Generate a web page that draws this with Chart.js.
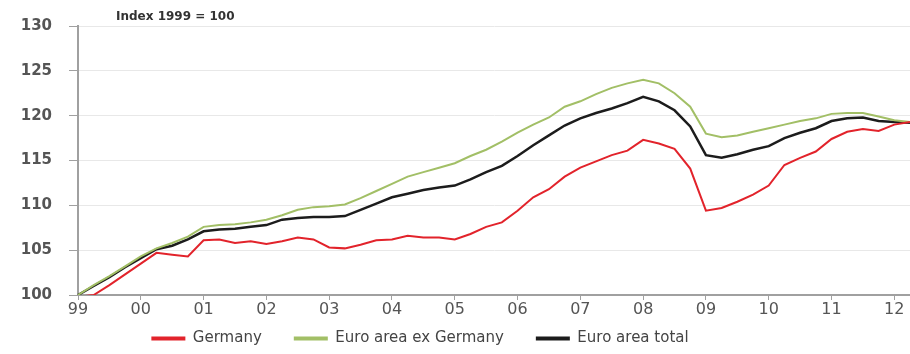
<!DOCTYPE html>
<html lang="en">
<head>
    <meta charset="UTF-8">
    <title>Index 1999 = 100</title>
    <script src="https://cdn.jsdelivr.net/npm/chart.js"></script>
    <style>
        html, body { margin: 0; padding: 0; background: #fff; }
        .chart-container { width: 910px; height: 354px; }
    </style>
</head>
<body>
    <div class="chart-container">
        <canvas id="ulcChart"></canvas>
    </div>

    <script>
        // quarters 1999Q1 .. 2012Q2
        const quarters = [
            '1999Q1','1999Q2','1999Q3','1999Q4','2000Q1','2000Q2','2000Q3','2000Q4',
            '2001Q1','2001Q2','2001Q3','2001Q4','2002Q1','2002Q2','2002Q3','2002Q4',
            '2003Q1','2003Q2','2003Q3','2003Q4','2004Q1','2004Q2','2004Q3','2004Q4',
            '2005Q1','2005Q2','2005Q3','2005Q4','2006Q1','2006Q2','2006Q3','2006Q4',
            '2007Q1','2007Q2','2007Q3','2007Q4','2008Q1','2008Q2','2008Q3','2008Q4',
            '2009Q1','2009Q2','2009Q3','2009Q4','2010Q1','2010Q2','2010Q3','2010Q4',
            '2011Q1','2011Q2','2011Q3','2011Q4','2012Q1','2012Q2'
        ];

        const germany = [
            99.8, 100.0, 101.1, 102.3,  103.5, 104.7, 104.5, 104.3,
            106.1, 106.2, 105.8, 106.0,  105.7, 106.0, 106.4, 106.2,
            105.3, 105.2, 105.6, 106.1,  106.2, 106.6, 106.4, 106.4,
            106.2, 106.8, 107.6, 108.1,  109.4, 110.9, 111.8, 113.2,
            114.2, 114.9, 115.6, 116.1,  117.3, 116.9, 116.3, 114.1,
            109.4, 109.7, 110.4, 111.2,  112.2, 114.5, 115.3, 116.0,
            117.4, 118.2, 118.5, 118.3,  119.0, 119.3
        ];

        const exGermany = [
            100.0, 101.1, 102.1, 103.2,  104.3, 105.2, 105.8, 106.5,
            107.6, 107.8, 107.9, 108.1,  108.4, 108.9, 109.5, 109.8,
            109.9, 110.1, 110.8, 111.6,  112.4, 113.2, 113.7, 114.2,
            114.7, 115.5, 116.2, 117.1,  118.1, 119.0, 119.8, 121.0,
            121.6, 122.4, 123.1, 123.6,  124.0, 123.6, 122.5, 121.0,
            118.0, 117.6, 117.8, 118.2,  118.6, 119.0, 119.4, 119.7,
            120.2, 120.3, 120.3, 119.9,  119.5, 119.3
        ];

        const euroTotal = [
            100.0, 101.0, 102.0, 103.1,  104.1, 105.1, 105.5, 106.2,
            107.1, 107.3, 107.4, 107.6,  107.8, 108.4, 108.6, 108.7,
            108.7, 108.8, 109.5, 110.2,  110.9, 111.3, 111.7, 112.0,
            112.2, 112.9, 113.7, 114.4,  115.5, 116.7, 117.8, 118.9,
            119.7, 120.3, 120.8, 121.4,  122.1, 121.6, 120.6, 118.8,
            115.6, 115.3, 115.7, 116.2,  116.6, 117.5, 118.1, 118.6,
            119.4, 119.7, 119.8, 119.4,  119.3, 119.2
        ];

        const yTicks = [100, 105, 110, 115, 120, 125, 130];

        const FONT = 'DejaVu Sans';

        // caption above the plot, plus nudge the legend a bit left/down like the original
        const extrasPlugin = {
            id: 'extras',
            afterLayout(chart) {
                const lg = chart.legend;
                lg.left -= 35;
                lg.right -= 35;
                lg.top += 2;
                lg.bottom += 2;
            },
            afterDraw(chart) {
                const c = chart.ctx;
                c.save();
                c.font = 'bold 12px ' + FONT;
                c.fillStyle = '#333';
                c.textBaseline = 'middle';
                c.fillText('Index 1999 = 100', chart.chartArea.left + 38, 17);
                c.restore();
            }
        };

        const isYearStart = (i) => quarters[i] && quarters[i].endsWith('Q1');

        const ctx = document.getElementById('ulcChart').getContext('2d');
        new Chart(ctx, {
            type: 'line',
            data: {
                labels: quarters,
                datasets: [
                    { label: 'Germany', data: germany, borderColor: '#e2232b', borderWidth: 2 },
                    { label: 'Euro area ex Germany', data: exGermany, borderColor: '#a2bf66', borderWidth: 2 },
                    { label: 'Euro area total', data: euroTotal, borderColor: '#1c1c1c', borderWidth: 2.5 }
                ]
            },
            options: {
                responsive: true,
                maintainAspectRatio: false,
                animation: false,
                layout: { padding: { top: 26, right: 0, left: 0, bottom: 0 } },
                elements: { point: { radius: 0 }, line: { tension: 0 } },
                scales: {
                    x: {
                        offset: false,
                        // keep the axis box thin so the legend can sit where it does in the original;
                        // labels are pushed down below the axis line (mirror turns off label clipping)
                        afterFit(s) { s.height = 2; },
                        border: { color: '#a0a0a0', width: 2 },
                        grid: {
                            drawOnChartArea: false,
                            tickLength: 5,
                            tickColor: (c) => isYearStart(c.index) ? '#a0a0a0' : 'rgba(0,0,0,0)'
                        },
                        ticks: {
                            autoSkip: false,
                            maxRotation: 0,
                            mirror: true,
                            padding: -24,
                            color: '#555',
                            font: { family: FONT, size: 16 },
                            callback: (v, i) => isYearStart(i) ? quarters[i].slice(2, 4) : ''
                        }
                    },
                    y: {
                        min: 100,
                        max: 130,
                        afterFit(s) { s.width = 78; },
                        afterBuildTicks(s) { s.ticks = yTicks.map(v => ({ value: v })); },
                        border: { color: '#a0a0a0', width: 2 },
                        grid: { color: '#e8e8e8', tickColor: '#a0a0a0', tickLength: 9 },
                        ticks: { color: '#555', padding: 17, font: { family: FONT, size: 15, weight: 'bold' } }
                    }
                },
                plugins: {
                    legend: {
                        position: 'bottom',
                        labels: {
                            color: '#444',
                            font: { family: FONT, size: 15 },
                            usePointStyle: true,
                            pointStyle: 'line',
                            pointStyleWidth: 34,
                            padding: 32,
                            generateLabels(chart) {
                                const items = Chart.defaults.plugins.legend.labels.generateLabels(chart);
                                items.forEach(it => { it.lineWidth = 4; });
                                return items;
                            }
                        }
                    },
                    tooltip: { enabled: false }
                }
            },
            plugins: [extrasPlugin]
        });
    </script>
</body>
</html>
